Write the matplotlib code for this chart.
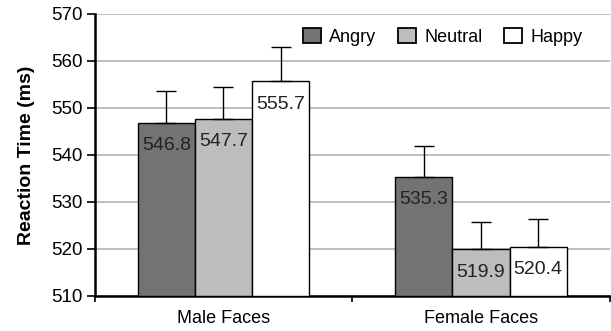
import matplotlib
matplotlib.use("Agg")
import matplotlib.pyplot as plt
import numpy as np

plt.rcParams['font.family'] = ['Liberation Sans', 'DejaVu Sans']

categories = ["Male Faces", "Female Faces"]
series = ["Angry", "Neutral", "Happy"]
values = {
    "Angry": [546.8, 535.3],
    "Neutral": [547.7, 519.9],
    "Happy": [555.7, 520.4],
}
errors = {
    "Angry": [6.9, 6.5],
    "Neutral": [6.8, 5.8],
    "Happy": [7.2, 5.9],
}
colors = {"Angry": "#737373", "Neutral": "#bdbdbd", "Happy": "#ffffff"}
yticks = [510, 520, 530, 540, 550, 560, 570]

fig = plt.figure(figsize=(6.11, 3.31), dpi=100)
ax = fig.add_axes([0.155, 0.106, 0.843, 0.852])

centers = np.array([0.5, 1.5])
w = 0.222
for i, s in enumerate(series):
    x = centers + (i - 1) * w
    ax.bar(x, np.array(values[s]) - 510, bottom=510, width=w, color=colors[s],
           edgecolor="black", linewidth=1.0, label=s, zorder=3)
    ax.errorbar(x, values[s], yerr=[np.zeros(2), errors[s]], fmt="none",
                ecolor="black", elinewidth=1.0, capsize=7, capthick=1.0, zorder=4)
    for xi, v in zip(x, values[s]):
        ax.annotate(f"{v:.1f}", (xi, v), xytext=(0, -16.5), textcoords="offset points",
                    ha="center", va="center", fontsize=14, color="#222222", zorder=5)

ax.set_ylim(510, 570)
ax.set_xlim(0, 2)
ax.set_yticks(yticks)
ax.set_yticklabels([str(t) for t in yticks], fontsize=13.5)
ax.yaxis.grid(True, color="#b3b3b3", linewidth=1.2, zorder=0)
ax.set_axisbelow(True)

ax.set_xticks([0, 1, 2])
ax.set_xticklabels(["", "", ""])
ax.set_xticks(centers, minor=True)
ax.set_xticklabels(categories, minor=True, fontsize=13)
ax.tick_params(axis="x", which="minor", length=0, pad=10)
ax.tick_params(axis="x", which="major", length=4, width=1.2, direction="out")
ax.tick_params(axis="y", length=6, width=1.2, direction="out", pad=3)

for sp in ["top", "right"]:
    ax.spines[sp].set_visible(False)
for sp in ["left", "bottom"]:
    ax.spines[sp].set_linewidth(1.8)

ax.set_ylabel("Reaction Time (ms)", fontsize=14, fontweight="bold", labelpad=11)

leg = ax.legend(loc="upper right", bbox_to_anchor=(0.975, 1.0), ncol=3, frameon=True,
                fontsize=13, handlelength=1.0, handleheight=0.85, handletextpad=0.45,
                columnspacing=1.2, borderpad=0.3)
leg.get_frame().set_edgecolor("white")
leg.get_frame().set_facecolor("white")
leg.get_frame().set_alpha(1)
for h in leg.legend_handles:
    h.set_linewidth(1.3)

fig.savefig("out.png", dpi=100)
